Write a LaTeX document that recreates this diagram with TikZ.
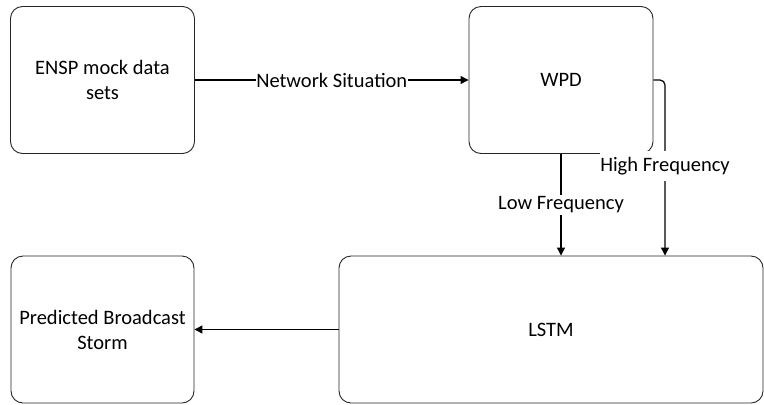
\documentclass[tikz,border=0pt]{standalone}
\usepackage{fontspec}
\setmainfont{Carlito}
\usetikzlibrary{arrows.meta}

\begin{document}
\begin{tikzpicture}[x=1bp, y=-1bp, >={Triangle[length=8bp,width=8bp]},
	font=\fontsize{20.5bp}{25bp}\selectfont,
	block/.style={draw=black!85, line width=0.9bp, rounded corners=12bp, align=center, inner sep=0pt},
	flow/.style={draw=black, line width=1.2bp, ->},
	tag/.style={fill=white, inner xsep=0.5bp, inner ysep=2bp}]

	\useasboundingbox (0,0) rectangle (764,404);

	% ================= blocks =================
	\node[block, minimum width=184bp, minimum height=147bp] (ensp) at (102.5,80) {ENSP mock data\\sets};
	\node[block, minimum width=184bp, minimum height=147bp] (wpd) at (561,80) {WPD};
	\node[block, minimum width=183bp, minimum height=147bp] (pred) at (102.5,329.5) {Predicted Broadcast\\Storm};
	\node[block, minimum width=424bp, minimum height=147bp] (lstm) at (551,329.5) {LSTM};

	\coordinate (hf) at (665,80);

	% ================= connectors =================
	\draw[flow] (ensp) -- node[tag] (ns) {Network Situation} (wpd);

	\draw[flow] (wpd.south) -- (wpd.south |- lstm.north);
	\node[tag] (lf) at (561,205) {Low Frequency};

	\draw[flow, rounded corners=5bp] (wpd.east) -| (hf |- lstm.north);
	\node[tag, inner ysep=6bp] (hfl) at (665,166) {High Frequency};

	\draw[flow] (lstm) -- (pred);

\end{tikzpicture}
\end{document}
